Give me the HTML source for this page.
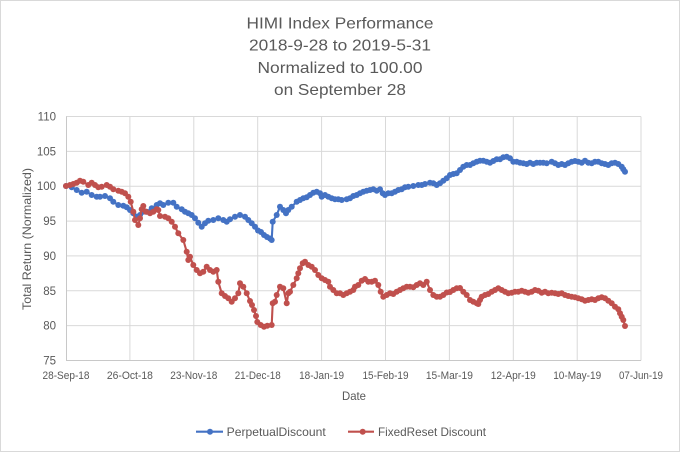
<!DOCTYPE html>
<html><head><meta charset="utf-8"><style>
html,body{margin:0;padding:0;background:#fff;}
svg{display:block;}
text{font-family:"Liberation Sans",sans-serif;fill:#595959;}
</style></head><body>
<svg width="680" height="452" viewBox="0 0 680 452" xmlns="http://www.w3.org/2000/svg">
<defs>
<marker id="mb" markerUnits="userSpaceOnUse" markerWidth="8" markerHeight="8" refX="4" refY="4" overflow="visible"><circle cx="4" cy="4" r="3" fill="#4472C4"/></marker>
<marker id="mr" markerUnits="userSpaceOnUse" markerWidth="8" markerHeight="8" refX="4" refY="4" overflow="visible"><circle cx="4" cy="4" r="3" fill="#C0504D"/></marker>
</defs>
<rect x="0.5" y="0.5" width="679" height="451" fill="#fff" stroke="#D9D9D9"/>
<g text-anchor="middle" font-size="16">
<text x="340" y="28.5" textLength="187" lengthAdjust="spacingAndGlyphs">HIMI Index Performance</text>
<text x="340" y="50.7" textLength="182" lengthAdjust="spacingAndGlyphs">2018-9-28 to 2019-5-31</text>
<text x="340" y="72.9" textLength="165" lengthAdjust="spacingAndGlyphs">Normalized to 100.00</text>
<text x="340" y="95.1" textLength="132" lengthAdjust="spacingAndGlyphs">on September 28</text>
</g>
<g stroke="#D9D9D9" stroke-width="1" fill="none">
<line x1="66" y1="116.5" x2="641" y2="116.5"/>
<line x1="66" y1="151.4" x2="641" y2="151.4"/>
<line x1="66" y1="186.2" x2="641" y2="186.2"/>
<line x1="66" y1="221.1" x2="641" y2="221.1"/>
<line x1="66" y1="255.9" x2="641" y2="255.9"/>
<line x1="66" y1="290.8" x2="641" y2="290.8"/>
<line x1="66" y1="325.6" x2="641" y2="325.6"/>
<line x1="129.9" y1="116.5" x2="129.9" y2="360.5"/>
<line x1="193.8" y1="116.5" x2="193.8" y2="360.5"/>
<line x1="257.7" y1="116.5" x2="257.7" y2="360.5"/>
<line x1="321.6" y1="116.5" x2="321.6" y2="360.5"/>
<line x1="385.5" y1="116.5" x2="385.5" y2="360.5"/>
<line x1="449.4" y1="116.5" x2="449.4" y2="360.5"/>
<line x1="513.3" y1="116.5" x2="513.3" y2="360.5"/>
<line x1="577.2" y1="116.5" x2="577.2" y2="360.5"/>
<line x1="641" y1="116.5" x2="641" y2="360.5"/>
</g>
<g stroke="#C8C8C8" stroke-width="1">
<line x1="66.5" y1="116.5" x2="66.5" y2="360.5"/>
<line x1="66" y1="360.5" x2="641" y2="360.5"/>
</g>
<g font-size="11.5" text-anchor="end">
<text x="56" y="120.5">110</text>
<text x="56" y="155.4">105</text>
<text x="56" y="190.2">100</text>
<text x="56" y="225.1">95</text>
<text x="56" y="259.9">90</text>
<text x="56" y="294.8">85</text>
<text x="56" y="329.6">80</text>
<text x="56" y="364.5">75</text>
</g>
<g font-size="11" text-anchor="middle">
<text x="66" y="379" textLength="47" lengthAdjust="spacingAndGlyphs">28-Sep-18</text>
<text x="129.9" y="379" textLength="46" lengthAdjust="spacingAndGlyphs">26-Oct-18</text>
<text x="193.8" y="379" textLength="47" lengthAdjust="spacingAndGlyphs">23-Nov-18</text>
<text x="257.7" y="379" textLength="46" lengthAdjust="spacingAndGlyphs">21-Dec-18</text>
<text x="321.6" y="379" textLength="45" lengthAdjust="spacingAndGlyphs">18-Jan-19</text>
<text x="385.5" y="379" textLength="46" lengthAdjust="spacingAndGlyphs">15-Feb-19</text>
<text x="449.4" y="379" textLength="47" lengthAdjust="spacingAndGlyphs">15-Mar-19</text>
<text x="513.3" y="379" textLength="45" lengthAdjust="spacingAndGlyphs">12-Apr-19</text>
<text x="577.2" y="379" textLength="48" lengthAdjust="spacingAndGlyphs">10-May-19</text>
<text x="641" y="379" textLength="44" lengthAdjust="spacingAndGlyphs">07-Jun-19</text>
</g>
<text x="354" y="400" font-size="12" text-anchor="middle" textLength="24" lengthAdjust="spacingAndGlyphs">Date</text>
<text transform="translate(31,239) rotate(-90)" font-size="12" text-anchor="middle" textLength="142" lengthAdjust="spacingAndGlyphs">Total Return (Normalized)</text>

<polyline fill="none" stroke="#4472C4" stroke-width="2.1" stroke-linejoin="round" marker-start="url(#mb)" marker-mid="url(#mb)" marker-end="url(#mb)" points="66,186 71.7,187.3 76.7,190 81.7,192.7 86.7,191.7 91.7,195 96.7,196.7 100,196.7 105,196 110,198.3 113.3,201.7 118.3,205 123.3,205.7 126.7,207.3 130,210 133.3,213.3 136.7,216.7 140,215 143.3,211.7 146.7,211.7 151.7,208.3 156.7,205 160,203.3 163.3,205 168.3,202.7 173.3,202.7 176.7,206.7 181.7,209.3 185,211.7 188.3,213.3 191.7,215 195,218.3 198.3,222.7 201.7,226.7 205,223.3 208.3,220.7 213.3,220 218.3,218.3 223.3,220 226.7,221.7 230,219.3 235,216.7 240,215 245,216.7 248.3,220 251.7,223.3 255,226.7 258,230.5 261,232 264,235 267,237 270,238.5 271.7,240 272.7,221.7 276.7,215 280,206.7 283.3,210 286,213.3 288.3,210 291.7,206.7 296.7,201.7 300,200 303.3,198.3 306.7,197.3 310,195 313.3,192.7 316.7,191.7 320,193.3 321.7,196.7 325,195 328.3,196.7 331.7,198.3 335,199.3 338.3,199.3 341.7,200 346.7,199.3 350,198.3 353.3,196 356.7,195 360,193.3 363.3,191.7 366.7,190.7 370,190 373.3,189.3 376.7,190.7 380,189.3 382.7,193.3 385,195 388.3,193.3 391.7,193.3 395,191.7 398.3,190 401.7,189.3 405,187.3 408.3,186.7 413.3,186 418.3,185 421.7,185 425,184 430,182.7 433.3,183.3 436.7,185 440,183.3 443.3,180.7 446.7,178.3 450,175 453.3,174 456.7,173.3 460,170 463.3,166.7 466.7,165 470,165 473.3,163.3 476.7,161.7 480,160.7 483.3,160.7 486.7,161.7 490,162.7 493.3,161 496.7,159.3 500,159.3 503.3,157.3 506.7,156.7 510,158.3 513.3,161.7 516.7,161.7 520,162.7 523.3,163.3 526.7,164 530,162.7 533.3,164 536.7,162.7 540,162.7 543.3,162.7 546.7,163.3 551.7,161.7 555,163.3 558.3,165 561.7,164 565,165 568.3,163.3 571.7,161.7 575,161 578.3,161.7 581.7,162.7 585,160.7 588.3,162.7 591.7,163.3 595,161.7 598.3,161.7 601.7,163.3 605,164 608.3,165 611.7,163.3 615,162.7 618.3,164 621.7,166.7 623.3,169.3 625,171.7"/>

<polyline fill="none" stroke="#C0504D" stroke-width="2.1" stroke-linejoin="round" marker-start="url(#mr)" marker-mid="url(#mr)" marker-end="url(#mr)" points="66,186 70,185 73.3,184 76.7,182.7 80,180.7 83.3,181.7 88.3,185 91.7,182.7 95,185 98.3,187.3 101.7,186.7 106.7,185 110,186.7 113.3,189.3 118.3,190.7 121.7,191.7 125,193.3 128.3,196.7 130.7,201.7 133.3,211.7 135,220 138.3,225 140,218.3 141.7,209.3 143.3,206 146,211.7 150,213.3 153.3,211.7 156.7,209.3 158.3,210 160,216 165,216.7 168.3,218.3 171.7,221.7 175,226.7 178.3,233.3 183.3,240 186.7,251.7 188.3,260 190,256.7 193.3,265 196.7,270 200,273.3 203.3,271.7 206.7,266.7 210,270 213.3,271.7 216.7,270 218.3,281.7 221.7,293.3 225,296 228.3,298.3 231.7,301.7 235,298.3 238.3,293.3 240,283.3 243.3,286.7 246.7,293.3 250,301 252,305 254,310 256,316 257.3,322 260.7,325 264,326.7 267.3,325.7 271.7,325 272.7,303.3 275,301.7 276.7,295 280,286.7 283.3,288.3 286.7,303.3 288.3,293.3 290,291.7 293.3,285 296.7,278.3 298.3,273.3 300,268.3 302.7,263.3 305,261.7 308.3,265 311.7,266.7 315,270 318.3,275 321.7,278.3 325,280 328.3,281.7 330,286.7 333.3,290 336.7,293.3 340,293.3 343.3,295 346.7,293.3 350,291.7 353.3,290 355,286.7 358.3,285 361.7,280.7 365,279 368.3,281.7 371.7,281.7 375,280.7 378.3,285 380.7,291.7 383.3,296.7 386.7,295 390,293.3 393.3,294 396.7,291.7 400,290 403.3,288.3 406.7,286.7 410,286.7 413.3,287.3 416.7,285 420,283.3 423.3,285 426.7,281.7 430,290 433.3,295 436.7,296.7 440,296.7 443.3,295 446.7,292.5 450,292 453.3,290 456.7,288.3 460,288 463.3,291.7 466.7,295 470,300 473.3,301.7 476.7,303.3 478.3,304 480,300 481.7,296.7 485,295 488.3,294 491.7,291.7 495,290 498.3,288.3 501.7,290 505,291.7 508.3,293.3 511.7,292.7 515,291.7 518.3,291.7 521.7,290.7 525,291.7 528.3,292.7 531.7,291.7 535,290 538.3,290.7 541.7,292.7 545,291.7 548.3,293.3 551.7,292.7 555,293.3 558.3,294 561.7,293.3 565,295 568.3,296 571.7,296.7 575,297.3 578.3,298.3 581.7,299.3 585,300.7 588.3,300 591.7,299.3 595,300 598.3,298.3 601.7,297.3 605,298.3 608.3,300.7 611.7,303.3 615,306.7 618.3,309.3 620,313.3 621.7,316.7 623.3,320 625,326"/>

<line x1="196" y1="431.7" x2="223" y2="431.7" stroke="#4472C4" stroke-width="2.1"/>
<circle cx="210" cy="431.7" r="3" fill="#4472C4"/>
<text x="226.7" y="436" font-size="12" textLength="99" lengthAdjust="spacingAndGlyphs">PerpetualDiscount</text>
<line x1="348" y1="431.7" x2="374" y2="431.7" stroke="#C0504D" stroke-width="2.1"/>
<circle cx="362.7" cy="431.7" r="3" fill="#C0504D"/>
<text x="378" y="436" font-size="12" textLength="108" lengthAdjust="spacingAndGlyphs">FixedReset Discount</text>
</svg>
</body></html>
